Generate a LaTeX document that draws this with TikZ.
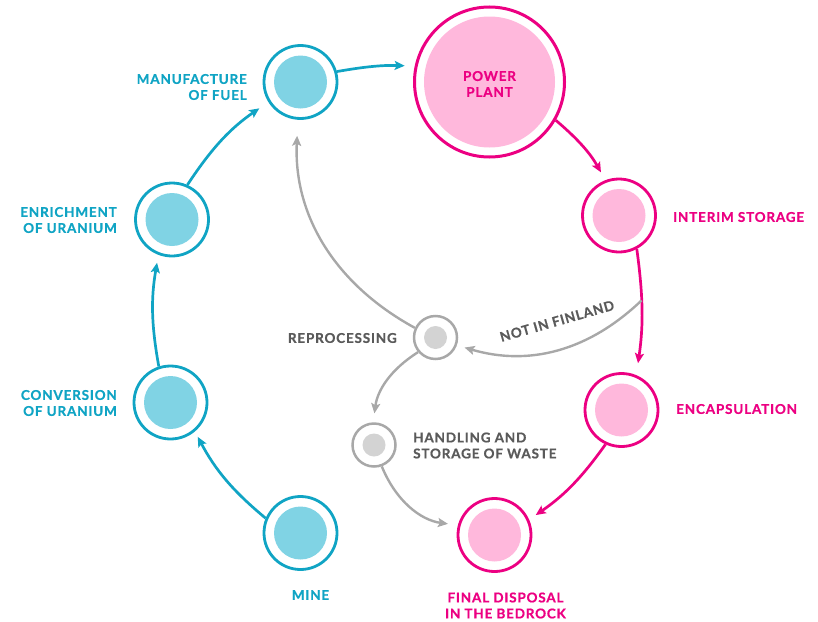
\documentclass[tikz,border=0pt]{standalone}
\usepackage{fontspec}
\setmainfont{Lato}[BoldFeatures={LetterSpace=6,FakeBold=0.7}]
\usetikzlibrary{arrows.meta}
\definecolor{cyanD}{RGB}{16,164,196}
\definecolor{cyanL}{RGB}{128,211,228}
\definecolor{pinkD}{RGB}{236,0,130}
\definecolor{pinkL}{RGB}{255,184,220}
\definecolor{grayD}{RGB}{168,168,168}
\definecolor{grayL}{RGB}{211,211,211}
\definecolor{grayT}{RGB}{90,90,90}
\begin{document}
\begin{tikzpicture}[x=1pt,y=-1pt,
  lbl/.style={font=\fontsize{13.5}{16}\selectfont\bfseries, inner sep=0pt, text=#1},
  stn/.style={circle, draw=#1D, line width=2.8pt, minimum size=73pt, inner sep=0pt,
    path picture={\fill[#1L] (path picture bounding box.center) circle[radius=26.5pt];}},
  bigstn/.style={circle, draw=#1D, line width=3pt, minimum size=150pt, inner sep=0pt,
    path picture={\fill[#1L] (path picture bounding box.center) circle[radius=65.5pt];}},
  smallstn/.style={circle, draw=grayD, line width=2.5pt, minimum size=43pt, inner sep=0pt,
    path picture={\fill[grayL] (path picture bounding box.center) circle[radius=11.5pt];}},
  tip/.style={-{Stealth[length=10pt,width=9pt,inset=2pt]}},
  carrow/.style={tip, draw=cyanD, line width=2.7pt},
  parrow/.style={tip, draw=pinkD, line width=2.7pt},
  garrow/.style={tip, draw=grayD, line width=2.4pt},
]
\useasboundingbox (0,0) rectangle (818,621);

% stations
\node[stn=cyan] (mine) at (300.5,533) {};
\node[stn=cyan] (conv) at (170.5,402.5) {};
\node[stn=cyan] (enr) at (172,219.5) {};
\node[stn=cyan] (manu) at (300.5,82) {};
\node[bigstn=pink] (power) at (489.5,82) {};
\node[stn=pink] (interim) at (619,215.5) {};
\node[stn=pink] (encap) at (621.5,410) {};
\node[stn=pink] (final) at (494.5,535) {};
\node[smallstn] (repro) at (435.5,337.5) {};
\node[smallstn] (handl) at (374,445) {};

% labels
\node[lbl=cyanD, anchor=east, align=right] (manuL) at (247,87) {MANUFACTURE\\OF FUEL};
\node[lbl=pinkD, align=center] (powerL) at (489.5,84) {POWER\\PLANT};
\node[lbl=cyanD, anchor=east, align=right] (enrL) at (117,220) {ENRICHMENT\\OF URANIUM};
\node[lbl=cyanD, anchor=east, align=right] (convL) at (117,403) {CONVERSION\\OF URANIUM};
\node[lbl=cyanD] (mineL) at (310.5,595) {MINE};
\node[lbl=pinkD, anchor=west] (interimL) at (673,217) {INTERIM STORAGE};
\node[lbl=pinkD, anchor=west] (encapL) at (676,409) {ENCAPSULATION};
\node[lbl=pinkD, align=center] (finalL) at (505.5,605.5) {FINAL DISPOSAL\\IN THE BEDROCK};
\node[lbl=grayT, anchor=west, align=left] (handlL) at (413,445.5) {HANDLING AND\\STORAGE OF WASTE};
\node[lbl=grayT, anchor=east] (reproL) at (397,338) {REPROCESSING};
\node[lbl=grayT, rotate=16] (notL) at (557,321) {NOT IN FINLAND};

% cyan cycle
\draw[carrow, shorten >=6pt] (mine.157) to[bend left=11] (conv.-50);
\draw[carrow, shorten >=8pt] (conv.108) to[bend left=10] (enr.-111);
\draw[carrow, shorten >=11pt] (enr.66) to[bend left=11] (manu.-148);
\draw[carrow, shorten >=10pt] (manu.16) to[bend left=6] (power.168);
% pink cycle
\draw[parrow, shorten >=9pt] (power.-30) to[bend left=10] (interim.111);
\draw[parrow, shorten >=12pt] (interim.-62) to[bend left=8] coordinate[pos=0.4] (branch) (encap.67);
\draw[parrow, shorten >=8pt] (encap.-115) to[bend left=10] (final.24);
% gray
\draw[garrow, shorten >=8pt] (branch) to[bend left=30] (repro.-20);
\draw[garrow, shorten >=16pt] (repro.155) to[bend left=32] (manu.-94);
\draw[garrow, shorten >=9pt] (repro.-140) to[bend right=25] (handl.92);
\draw[garrow, shorten >=10pt] (handl.-70) to[bend right=30] (final.165);
\end{tikzpicture}
\end{document}
